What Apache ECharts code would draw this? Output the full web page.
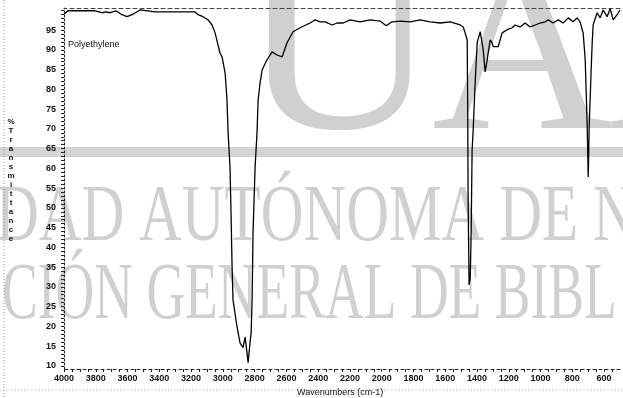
<!DOCTYPE html>
<html>
<head>
<meta charset="utf-8">
<script src="https://cdn.jsdelivr.net/npm/echarts@6/dist/echarts.min.js"></script>
<style>
html,body{margin:0;padding:0;background:#fff;}
#chart{width:623px;height:398px;}
</style>
</head>
<body>
<div id="chart"></div>
<script>
// Wavenumbers (cm-1) and % transmittance
const wavenumbers = [4000,3975,3899,3805,3761,3736,3710,3673,3635,3603,3572,3521,3427,3301,3175,3156,3125,3093,3068,3049,3018,3005,2986,2974,2967,2955,2948,2942,2936,2911,2892,2873,2860,2848,2841,2829,2822,2816,2810,2797,2785,2778,2766,2753,2722,2690,2659,2627,2596,2558,2514,2451,2419,2388,2356,2312,2281,2243,2199,2136,2073,2010,1972,1935,1884,1821,1758,1695,1632,1569,1506,1487,1475,1462,1459,1456,1450,1443,1437,1431,1425,1412,1399,1380,1368,1361,1349,1336,1330,1317,1305,1298,1267,1242,1235,1210,1179,1160,1129,1097,1066,1034,1003,971,952,921,889,858,826,795,770,751,738,732,719,707,700,694,681,675,669,644,625,606,581,562,543,518,500];
const transmittance = [99.0,99.9,99.9,99.9,99.4,99.6,99.4,99.9,98.9,98.4,98.9,100.1,99.6,99.6,99.6,98.9,98.4,97.6,96.3,94.3,89.2,88.2,84.2,77.3,69.0,60.4,47.7,35.1,26.7,19.9,15.8,14.6,17.3,13.3,10.8,15.8,18.4,26.7,43.7,60.4,69.0,77.3,81.6,84.9,87.5,89.5,88.7,88.2,91.8,94.6,95.6,96.8,97.6,97.1,97.1,96.3,96.8,96.8,97.6,97.1,97.6,97.3,96.1,97.1,97.3,97.1,97.6,97.1,96.8,97.1,96.3,95.8,94.3,92.5,77.3,52.0,30.5,31.8,43.7,64.7,69.0,81.6,91.8,94.6,94.3,90.0,84.4,87.5,89.2,92.5,91.8,90.8,90.8,94.3,94.6,95.1,95.6,96.3,95.8,96.8,95.8,96.3,96.8,97.1,97.6,96.8,97.6,96.8,98.1,97.1,98.1,97.1,95.1,94.3,87.5,71.5,57.8,70.5,85.7,91.8,96.3,99.4,98.1,100.1,98.4,100.4,97.6,98.9,100.1];
const xTickLabels = [4000,3800,3600,3400,3200,3000,2800,2600,2400,2200,2000,1800,1600,1400,1200,1000,800,600];
const yTickLabels = [10,15,20,25,30,35,40,45,50,55,60,65,70,75,80,85,90,95];
const sampleName = 'Polyethylene';
const xTitle = 'Wavenumbers (cm-1)';
const yTitle = '%Transmittance';

const xMinor = [];
for (let v = 4000; v >= 550; v -= 50) xMinor.push(v);
const yMinor = [];
for (let v = 10; v <= 100; v += 1) yMinor.push(v);

const chart = echarts.init(document.getElementById('chart'), null, {renderer: 'canvas'});
const wm = '#d0d0d0';
const lblFont = '"Liberation Sans Narrow","Liberation Sans",Arial,sans-serif';
chart.setOption({
  animation: false,
  backgroundColor: '#ffffff',
  grid: {left: 64, right: 3, top: 8, bottom: 29, containLabel: false},
  xAxis: [{
    type: 'value', inverse: true, min: 500, max: 4000, position: 'bottom',
    axisLine: {show: true, lineStyle: {color: '#222', width: 1, type: [3, 3]}},
    axisTick: {show: true, length: 3, customValues: xMinor, lineStyle: {color: '#222'}},
    axisLabel: {customValues: xTickLabels, formatter: v => String(v), margin: 5, fontSize: 9, fontWeight: 'bold', color: '#111', fontFamily: lblFont},
    splitLine: {show: false}
  }, {
    type: 'value', inverse: true, min: 500, max: 4000, position: 'top',
    axisLine: {show: true, lineStyle: {color: '#444', width: 1, type: [4, 3]}},
    axisTick: {show: false}, axisLabel: {show: false}, splitLine: {show: false}
  }],
  yAxis: {
    type: 'value', min: 9.2, max: 100.6,
    axisLine: {show: true, lineStyle: {color: '#222', width: 1, type: [2, 2]}},
    axisTick: {show: true, length: 3, customValues: yMinor, lineStyle: {color: '#222'}},
    axisLabel: {customValues: yTickLabels, formatter: v => String(v), margin: 8, fontSize: 9, fontWeight: 'bold', color: '#111', fontFamily: lblFont},
    splitLine: {show: false}
  },
  graphic: [
    {type: 'rect', silent: true, z: -5, shape: {x: 0, y: 147, width: 623, height: 10}, style: {fill: '#d4d4d4'}},
    {type: 'text', silent: true, z: -5, x: 240, y: -63, scaleX: 1.1, style: {text: 'U', font: '250px "Liberation Serif"', fill: wm}},
    {type: 'text', silent: true, z: -5, x: 432, y: -63, scaleX: 1.0, style: {text: 'A', font: '250px "Liberation Serif"', fill: wm}},
    {type: 'text', silent: true, z: -5, x: 604, y: -63, scaleX: 1.0, style: {text: 'N', font: '250px "Liberation Serif"', fill: wm}},
    {type: 'text', silent: true, z: -5, x: -4, y: 179, scaleX: 0.74, style: {text: 'DAD AUTÓNOMA DE N', font: '80px "Liberation Serif"', fill: wm}},
    {type: 'text', silent: true, z: -5, x: 2, y: 257, scaleX: 0.67, style: {text: 'CIÓN GENERAL DE BIBL', font: '80px "Liberation Serif"', fill: wm}},
    {type: 'line', silent: true, z: -4, shape: {x1: 4, y1: 0, x2: 4, y2: 398}, style: {stroke: '#999', lineWidth: 1, lineDash: [1, 2]}},
    {type: 'line', silent: true, z: -4, shape: {x1: 0, y1: 390, x2: 623, y2: 390}, style: {stroke: '#aaa', lineWidth: 1, lineDash: [1, 2]}},
    {type: 'text', silent: true, z: 5, x: 68, y: 40, style: {text: sampleName, font: '9px "Liberation Sans"', fill: '#111'}},
    {type: 'text', silent: true, z: 5, x: 297, y: 388, style: {text: xTitle, font: '9px "Liberation Sans"', fill: '#111'}},
    {type: 'text', silent: true, z: 5, x: 11, y: 117, style: {text: yTitle.split('').join('\n'), font: 'bold 8px "Liberation Sans"', lineHeight: 9, align: 'center', fill: '#111'}}
  ],
  series: [{
    type: 'line', xAxisIndex: 0, showSymbol: false, symbol: 'none',
    lineStyle: {color: '#000', width: 1.3},
    data: wavenumbers.map((w, i) => [w, transmittance[i]]),
    z: 3
  }]
});
</script>
</body>
</html>
